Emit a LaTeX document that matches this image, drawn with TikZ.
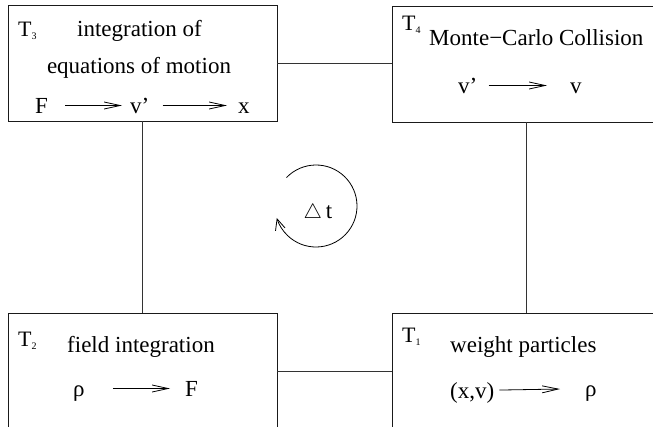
\documentclass[tikz,border=0pt]{standalone}
\usepackage{fontspec}
\setmainfont{Liberation Serif}
\usetikzlibrary{arrows.meta}
\definecolor{txt}{HTML}{000000}
\definecolor{boxB}{HTML}{1A1A1A}
\definecolor{lnB}{HTML}{333333}
\newcommand{\tsub}[1]{T\raisebox{-0.3ex}{\fontsize{10}{10}\selectfont #1}}

\begin{document}
\begin{tikzpicture}[x=1pt,y=-1pt,font=\fontsize{23}{27}\selectfont,text=txt,
  >={Straight Barb[length=16pt,width=7pt]},
  stg/.style={draw=boxB,line width=0.9pt,minimum width=269pt,minimum height=116pt,inner sep=0pt},
  lbl/.style={anchor=base west,inner sep=0pt},
  sym/.style={lbl,text height=15pt,text depth=0pt},
  tsk/.style={lbl,font=\fontsize{22}{26}\selectfont},
  flw/.style={->,line width=0.8pt},
  cyc/.style={-{Straight Barb[length=11pt,width=10pt]},line width=0.8pt},
  lnk/.style={draw=lnB,line width=0.9pt}]

\useasboundingbox (0,0) rectangle (653,426);
\clip (0,0) rectangle (653,426);

% the four stages
\node[stg] (intg) at (142.5,63) {};
\node[stg] (mcc) at (526.5,64) {};
\node[stg] (fld) at (142.5,371) {};
\node[stg] (wgt) at (526.5,371) {};

\draw[lnk] (intg.east) -- (intg.east -| mcc.west);
\draw[lnk] (intg.south) -- (intg.south |- fld.north);
\draw[lnk] (mcc.south) -- (mcc.south |- wgt.north);
\draw[lnk] (fld.east) -- (wgt.west);

\node[tsk] (t3) at (18,36) {\tsub{3}};
\node[lbl] (intg1) at (77,36) {integration of};
\node[lbl,anchor=base] (intg2) at (139,73) {equations of motion};
\node[sym] (f1) at (35,113) {F};
\node[sym] (v1) at (130,113) {v'};
\node[sym] (x1) at (238,113) {x};
\draw[flw,shorten <=17pt,shorten >=8pt] (f1) -- (v1);
\draw[flw,shorten <=13pt,shorten >=11pt] (v1) -- (x1);

\node[tsk] (t4) at (402,30) {\tsub{4}};
\node[lbl] (mcc1) at (429,45) {Monte−Carlo Collision};
\node[sym] (v2) at (458,93) {v'};
\node[sym] (v3) at (570,93) {v};
\draw[flw,shorten <=11pt,shorten >=23pt] (v2) -- (v3);

\node[tsk] (t2) at (18,346) {\tsub{2}};
\node[lbl] (fld1) at (67,352) {field integration};
\node[sym] (r1) at (73,396) {ρ};
\node[sym] (f2) at (185,396) {F};
\draw[flw,shorten <=28pt,shorten >=15pt] (r1) -- (f2);

\node[tsk] (t1) at (402,342) {\tsub{1}};
\node[lbl] (wgt1) at (450,352) {weight particles};
\node[sym] (xv) at (450,398) {(x,v)};
\node[sym] (r2) at (585,396) {ρ};
\draw[flw,shorten <=5pt,shorten >=25pt] (xv) -- (r2);

% time step loop
\coordinate (loop) at (316,206);
\draw[cyc] ([shift={(136:41pt)}]loop) arc[start angle=136,end angle=-163,radius=41pt];
\node[anchor=base] (dt) at (318,218) {{\fontsize{20}{20}\selectfont$\triangle$}\,t};

\end{tikzpicture}
\end{document}
